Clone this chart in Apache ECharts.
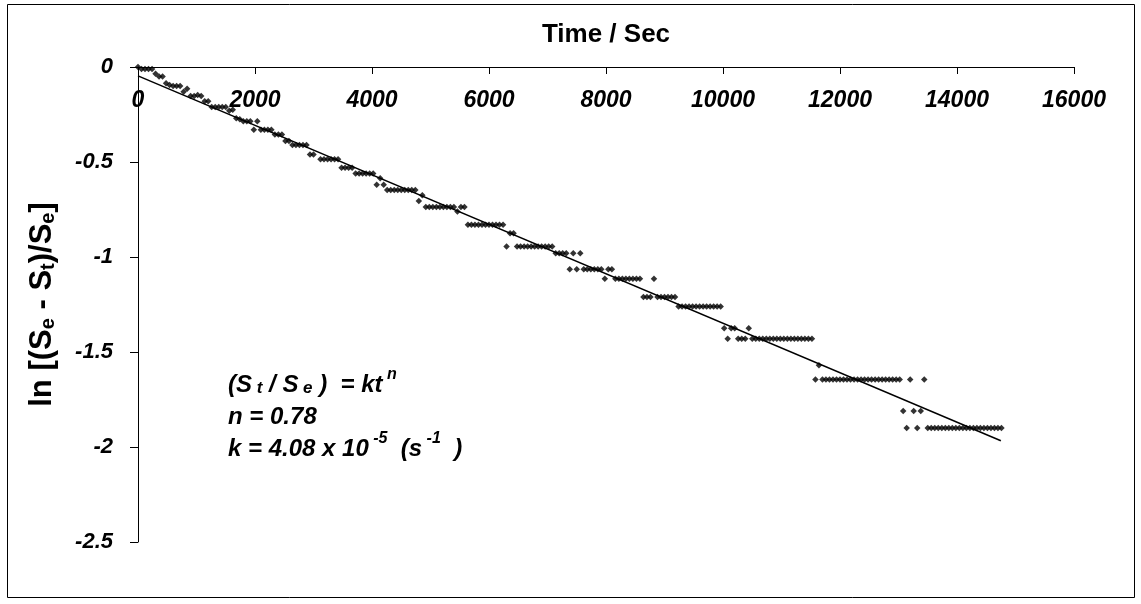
<!DOCTYPE html>
<html><head><meta charset="utf-8">
<script src="https://cdn.jsdelivr.net/npm/echarts@6/dist/echarts.min.js"></script>
<style>html,body{margin:0;padding:0;background:#fff}#c{width:1141px;height:604px}</style>
</head><body><div id="c"></div>
<script>
// observed points: [time (s), ln((Se - St)/Se)]
const observed = [
[0,0],[60,-0.01],[120,-0.01],[180,-0.01],[240,-0.01],[300,-0.035],[360,-0.05],[420,-0.05],
[480,-0.085],[540,-0.095],[600,-0.10],[660,-0.10],[720,-0.10],[780,-0.13],[840,-0.115],
[900,-0.153],[960,-0.153],[1020,-0.147],[1080,-0.153],[1140,-0.18],[1200,-0.18],
[1260,-0.21],[1320,-0.21],[1380,-0.21],[1440,-0.21],[1500,-0.21],[1560,-0.23],[1620,-0.225],
[1680,-0.27],[1740,-0.275],[1800,-0.285],[1860,-0.285],[1920,-0.285],[1980,-0.33],[2040,-0.285],
[2100,-0.33],[2160,-0.33],[2220,-0.33],[2280,-0.33],[2340,-0.355],[2400,-0.355],[2460,-0.355],
[2520,-0.39],[2580,-0.39],[2640,-0.41],[2700,-0.41],[2760,-0.41],[2820,-0.41],[2880,-0.41],
[2940,-0.46],[3000,-0.46],[3120,-0.485],[3180,-0.485],[3240,-0.485],[3300,-0.485],[3360,-0.485],[3420,-0.485],
[3480,-0.53],[3540,-0.53],[3600,-0.53],[3660,-0.53],
[3720,-0.56],[3780,-0.56],[3840,-0.56],[3900,-0.56],[3960,-0.56],[4020,-0.56],
[4080,-0.62],[4140,-0.585],[4200,-0.62],
[4260,-0.647],[4320,-0.647],[4380,-0.647],[4440,-0.647],[4500,-0.647],[4560,-0.647],[4620,-0.647],[4680,-0.647],[4740,-0.647],
[4800,-0.705],[4860,-0.675],
[4920,-0.737],[4980,-0.737],[5040,-0.737],[5100,-0.737],[5160,-0.737],[5220,-0.737],[5280,-0.737],[5340,-0.737],[5400,-0.737],
[5460,-0.76],[5520,-0.737],[5580,-0.737],
[5640,-0.83],[5700,-0.83],[5760,-0.83],[5820,-0.83],[5880,-0.83],[5940,-0.83],[6000,-0.83],[6060,-0.83],[6120,-0.83],[6180,-0.83],[6240,-0.83],
[6300,-0.945],[6360,-0.875],[6420,-0.875],
[6480,-0.945],[6540,-0.945],[6600,-0.945],[6660,-0.945],[6720,-0.945],[6780,-0.945],[6840,-0.945],[6900,-0.945],[6960,-0.945],[7020,-0.945],[7080,-0.945],
[7140,-0.98],[7200,-0.98],[7260,-0.98],[7320,-0.98],
[7380,-1.065],[7440,-0.98],[7500,-1.065],[7560,-0.98],
[7620,-1.065],[7680,-1.065],[7740,-1.065],[7800,-1.065],[7860,-1.065],[7920,-1.065],
[7980,-1.115],[8040,-1.065],[8100,-1.065],
[8160,-1.115],[8220,-1.115],[8280,-1.115],[8340,-1.115],[8400,-1.115],[8460,-1.115],[8520,-1.115],[8580,-1.115],
[8640,-1.21],[8700,-1.21],[8760,-1.21],[8820,-1.115],
[8880,-1.21],[8940,-1.21],[9000,-1.21],[9060,-1.21],[9120,-1.21],[9180,-1.21],
[9240,-1.26],[9300,-1.26],[9360,-1.26],[9420,-1.26],[9480,-1.26],[9540,-1.26],[9600,-1.26],[9660,-1.26],[9720,-1.26],[9780,-1.26],[9840,-1.26],[9900,-1.26],[9960,-1.26],
[10020,-1.375],[10080,-1.43],[10140,-1.375],[10200,-1.375],[10260,-1.43],[10320,-1.43],[10380,-1.43],[10440,-1.375],
[10500,-1.43],[10560,-1.43],[10620,-1.43],[10680,-1.43],[10740,-1.43],[10800,-1.43],[10860,-1.43],[10920,-1.43],[10980,-1.43],
[11040,-1.43],[11100,-1.43],[11160,-1.43],[11220,-1.43],[11280,-1.43],[11340,-1.43],[11400,-1.43],[11460,-1.43],[11520,-1.43],
[11580,-1.645],[11640,-1.57],
[11700,-1.645],[11760,-1.645],[11820,-1.645],[11880,-1.645],[11940,-1.645],[12000,-1.645],[12060,-1.645],[12120,-1.645],
[12180,-1.645],[12240,-1.645],[12300,-1.645],[12360,-1.645],[12420,-1.645],[12480,-1.645],[12540,-1.645],[12600,-1.645],
[12660,-1.645],[12720,-1.645],[12780,-1.645],[12840,-1.645],[12900,-1.645],[12960,-1.645],[13020,-1.645],
[13080,-1.81],[13140,-1.90],[13200,-1.645],[13260,-1.81],[13320,-1.90],[13380,-1.81],[13440,-1.645],
[13500,-1.90],[13560,-1.90],[13620,-1.90],[13680,-1.90],[13740,-1.90],[13800,-1.90],[13860,-1.90],[13920,-1.90],
[13980,-1.90],[14040,-1.90],[14100,-1.90],[14160,-1.90],[14220,-1.90],[14280,-1.90],[14340,-1.90],[14400,-1.90],
[14460,-1.90],[14520,-1.90],[14580,-1.90],[14640,-1.90],[14700,-1.90],[14760,-1.90]
];
// fitted straight line end points
const fitTime = [0, 14750];
const fitValue = [-0.047, -1.967];
const xRange = [0, 16000, 2000];
const yRange = [-2.5, 0, 0.5];

const FONT = '"Liberation Sans", Arial, sans-serif';
const chart = echarts.init(document.getElementById('c'), null, {renderer: 'canvas'});
const base = {fontFamily: FONT, fontWeight: 'bold', color: '#000'};
const ann = (size, va, lh) => ({fontFamily: FONT, fontWeight: 'bold', fontStyle: 'italic', fontSize: size, fill: '#000', verticalAlign: va, lineHeight: lh});
chart.setOption({
  animation: false,
  backgroundColor: '#fff',
  grid: {left: 138, top: 67, right: 67, bottom: 62},
  xAxis: {
    type: 'value', position: 'top', min: xRange[0], max: xRange[1], interval: xRange[2],
    name: 'Time / Sec', nameLocation: 'middle', nameGap: 19,
    nameTextStyle: Object.assign({}, base, {fontSize: 26}),
    axisLine: {show: true, onZero: false, lineStyle: {color: '#000', width: 1}},
    axisTick: {show: true, inside: true, length: 7, lineStyle: {color: '#000'}},
    axisLabel: Object.assign({}, base, {inside: true, margin: 22, fontSize: 23, fontStyle: 'italic',
      formatter: v => String(v)}),
    splitLine: {show: false}
  },
  yAxis: {
    type: 'value', min: yRange[0], max: yRange[1], interval: yRange[2],
    name: '{a|ln [(S}{b|e}{a| - S}{b|t}{a|)/S}{b|e}{a|]}',
    nameLocation: 'middle', nameGap: 80, nameRotate: 90,
    nameTextStyle: {
      rich: {
        a: Object.assign({}, base, {fontSize: 31, verticalAlign: 'bottom', lineHeight: 34}),
        b: Object.assign({}, base, {fontSize: 20, verticalAlign: 'bottom', lineHeight: 32})
      }
    },
    axisLine: {show: true, onZero: false, lineStyle: {color: '#000', width: 1}},
    axisTick: {show: true, inside: false, length: 8, lineStyle: {color: '#000'}},
    axisLabel: Object.assign({}, base, {margin: 25, fontSize: 22, fontStyle: 'italic'}),
    splitLine: {show: false}
  },
  series: [
    {
      type: 'scatter', data: observed, symbol: 'diamond', symbolSize: 6.5,
      itemStyle: {color: '#000'}, z: 3
    },
    {
      type: 'line', data: fitTime.map((t, i) => [t, fitValue[i]]), symbol: 'none',
      lineStyle: {color: '#000', width: 1.5}, z: 2
    }
  ],
  graphic: [
    {type: 'rect', shape: {x: 7.5, y: 4.5, width: 1127, height: 593}, style: {fill: 'none', stroke: '#000', lineWidth: 1}, silent: true},
    {type: 'text', x: 228, y: 382, style: {
      text: '{a|(S}{s| t}{a| / S}{s| e}{a| )  = kt}{p| n}',
      verticalAlign: 'middle',
      rich: {a: ann(24, 'bottom', 30), s: ann(17, 'bottom', 27), p: ann(16, 'top', 30)}
    }},
    {type: 'text', x: 228, y: 414, style: {
      text: '{a|n = 0.78}', verticalAlign: 'middle',
      rich: {a: ann(24, 'bottom', 30)}
    }},
    {type: 'text', x: 228, y: 446, style: {
      text: '{a|k = 4.08 x 10}{p| -5}{a|  (s}{p| -1}{a|  )}',
      verticalAlign: 'middle',
      rich: {a: ann(24, 'bottom', 30), p: ann(16, 'top', 30)}
    }}
  ]
});
</script>
</body></html>
